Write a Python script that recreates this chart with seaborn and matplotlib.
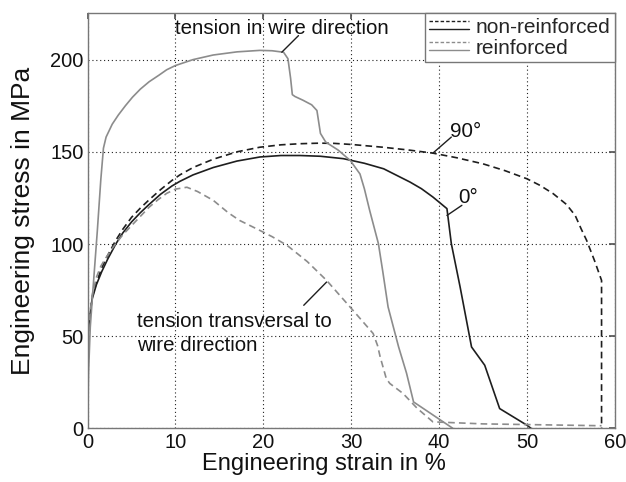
import numpy as np
import pandas as pd
import matplotlib
matplotlib.use("Agg")
import matplotlib.pyplot as plt
import seaborn as sns
from matplotlib.lines import Line2D
from matplotlib.legend_handler import HandlerBase

# ---- data ----
x_90 = [0, 0.03, 0.1, 0.5, 1, 1.6, 2.3, 3.2, 4, 5, 6, 7, 8.3, 9.6, 10.5, 12, 14.3, 17,
        19.6, 22, 24.2, 26.4, 28, 30, 33.6, 36.5, 39.3, 42, 45, 47.5, 50, 51.5, 53,
        54.5, 55.5, 56.2, 56.8, 57.7, 58.5, 58.5]
y_90 = [0, 40, 55, 71, 79, 87, 94, 102, 108, 114.5, 119.5, 124, 129.5, 134.5, 137.5,
        141.5, 146, 150, 152.5, 153.8, 154.4, 154.7, 154.6, 154, 152.5, 151, 149.3, 146.8,
        143.5, 139.8, 135.4, 131.8, 127.3, 121.5, 115.5, 108, 102, 91, 80.3, 0]

x_0 = [0, 0.03, 0.1, 0.5, 1, 1.6, 2.3, 3.2, 4, 5, 6, 7, 8.3, 9.6, 10.5, 12, 14.3, 17,
       19.6, 22, 24.2, 26.5, 29.1, 31.5, 33.7, 36.7, 38, 39.3, 40.9, 41.4, 42.4, 43.7,
       45.2, 46.9, 50, 50.5]
y_0 = [0, 40, 55, 70, 78, 85, 92, 100, 106, 112, 117, 121.5, 127, 131.5, 134, 137.5,
       141.5, 145, 147.2, 148, 148, 147.6, 146.3, 143.8, 140.8, 133.6, 130, 125.5, 119.2,
       100.2, 76.7, 44.2, 34.3, 10.8, 1.8, 0]

x_wire = [0, 0.1, 0.3, 0.6, 1.1, 1.5, 1.8, 2.1, 2.5, 2.8, 3.5, 4.3, 5.1, 6, 7, 8.1, 9,
          10, 12, 14.3, 17, 19.6, 21, 22.3, 22.8, 23.1, 23.3, 23.6, 24.5, 25.5, 26.1,
          26.5, 27.1, 28.5, 29.9, 31.0, 31.5, 32.1, 33.1, 33.6, 34.2, 35.4, 36.3, 37.1,
          41.6]
y_wire = [0, 30, 55, 75, 107, 135, 152, 158, 162, 165, 170, 175, 179.6, 184, 188, 191.5,
          194.5, 196.8, 200, 202.5, 204.2, 205, 204.8, 204, 200.5, 190, 181, 180, 178,
          175.5, 172.4, 160, 155.3, 151, 145.3, 138, 130, 118.3, 100.2, 85, 65.9, 44.2,
          30, 14.4, 0]

x_trans = [0, 0.03, 0.1, 0.5, 1, 1.5, 2, 3, 4, 5, 6, 7, 8, 9, 10, 11.3, 12.5, 14.3, 16,
           17.3, 19.6, 21, 22.7, 25, 27.2, 30.2, 32.5, 33, 33.3, 34, 34.4, 35.9, 37.5,
           39.3, 45, 58.5]
y_trans = [0, 40, 55, 72, 82, 88, 92, 99, 105, 110, 115, 120, 124, 127.5, 129.8, 130.8,
           128.5, 123.7, 117, 112.8, 107.4, 104, 99.3, 90.5, 80.3, 64.1, 51.5, 45, 38.8,
           27, 24.4, 19, 11, 3.6, 2.5, 1.5]

legend_labels = ["non-reinforced", "reinforced"]
x_ticks = [0, 10, 20, 30, 40, 50, 60]
y_ticks = [0, 50, 100, 150, 200]

BLACK = "#1e1e1e"
GRAY = "#8c8c8c"

sns.set_theme(style="white")
plt.rcParams["font.family"] = ["Liberation Sans", "DejaVu Sans"]

fig = plt.figure(figsize=(6.26, 4.82), dpi=100)
ax = fig.add_axes([0.140, 0.111, 0.842, 0.861])

def draw(x, y, color, ls):
    df = pd.DataFrame({"x": x, "y": y})
    sns.lineplot(data=df, x="x", y="y", ax=ax, sort=False, estimator=None,
                 color=color, linestyle=ls, linewidth=1.2)

draw(x_90, y_90, BLACK, (0, (4, 2.5)))
draw(x_0, y_0, BLACK, "-")
draw(x_wire, y_wire, GRAY, "-")
draw(x_trans, y_trans, GRAY, (0, (4, 2.5)))

ax.set_xlim(0, 60)
ax.set_ylim(0, 225)
ax.set_xticks(x_ticks)
ax.set_yticks(y_ticks)
ax.set_xticklabels([str(t) for t in x_ticks])
ax.set_yticklabels([str(t) for t in y_ticks])
ax.tick_params(direction="in", length=4, labelsize=14.5, top=True, right=True,
               color="#555555", labelcolor="#111111", pad=3)
ax.grid(True, color="#222222", linestyle=(0, (1, 2.5)), linewidth=0.8)
for s in ax.spines.values():
    s.set_color("#777777")
    s.set_linewidth(1.0)
ax.set_xlabel("Engineering strain in %", fontsize=17, color="#111111")
ax.set_ylabel("Engineering stress in MPa", fontsize=19, color="#111111")
ax.xaxis.set_label_coords(0.448, -0.060)
ax.yaxis.set_label_coords(-0.0995, 0.5)

# annotations
ann_kw = dict(fontsize=14.8, color="#111111")
lp = dict(arrowstyle="-", color=BLACK, linewidth=1.0, shrinkA=0, shrinkB=0)
ax.annotate("", xy=(22.1, 204), xytext=(24.0, 213), arrowprops=lp)
ax.text(10.0, 217, "tension in wire direction", va="center", ha="left", **ann_kw)
ax.annotate("", xy=(39.3, 149.3), xytext=(41.4, 158), arrowprops=lp)
ax.text(41.2, 161, "90°", va="center", ha="left", **ann_kw)
ax.annotate("", xy=(40.9, 115.5), xytext=(42.6, 121), arrowprops=lp)
ax.text(42.2, 125, "0°", va="center", ha="left", **ann_kw)
ax.annotate("", xy=(27.2, 79.4), xytext=(24.6, 66.8), arrowprops=lp)
ax.text(5.6, 51.4, "tension transversal to\nwire direction", va="center", ha="left",
        linespacing=1.35, **ann_kw)

class TwoLineHandler(HandlerBase):
    def __init__(self, color):
        super().__init__()
        self.color = color

    def create_artists(self, legend, orig_handle, xdescent, ydescent, width, height,
                       fontsize, trans):
        y1 = height * 0.8 - ydescent
        y2 = height * 0.25 - ydescent
        l1 = Line2D([-xdescent, width - xdescent], [y1, y1], color=self.color,
                    linestyle=(0, (2.5, 1.5)), linewidth=1.0, transform=trans)
        l2 = Line2D([-xdescent, width - xdescent], [y2, y2], color=self.color,
                    linestyle="-", linewidth=1.0, transform=trans)
        return [l1, l2]

h1 = Line2D([], [], color=BLACK)
h2 = Line2D([], [], color=GRAY)
leg = ax.legend([h1, h2], legend_labels, loc="upper right", fontsize=15,
                handler_map={h1: TwoLineHandler(BLACK), h2: TwoLineHandler(GRAY)},
                frameon=True, fancybox=False, borderaxespad=0, handlelength=1.9,
                handletextpad=0.33, borderpad=0.2, labelspacing=0.1)
leg.get_frame().set_edgecolor("#777777")
leg.get_frame().set_linewidth(1.0)
leg.get_frame().set_facecolor("white")
leg.get_frame().set_alpha(1)

fig.savefig("out.png", dpi=100)
